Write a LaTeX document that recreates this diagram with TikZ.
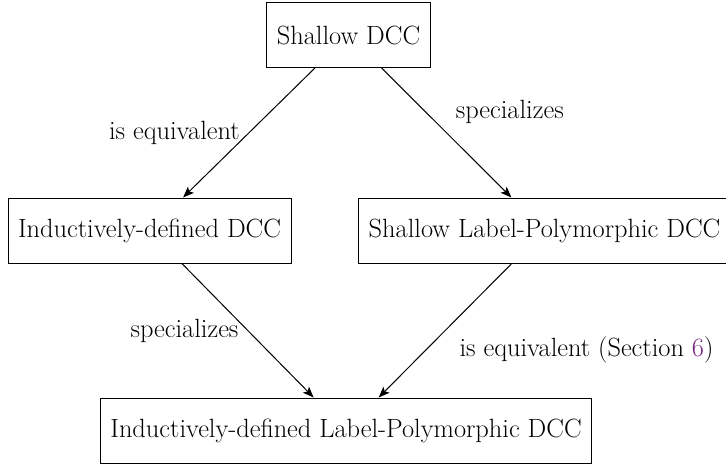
\documentclass[tikz,border=0pt]{standalone}
\usetikzlibrary{arrows.meta}
\definecolor{linkpurple}{RGB}{120,40,130}
\begin{document}
\begin{tikzpicture}[x=1pt,y=-1pt,
  every node/.style={font=\fontsize{26.4}{31}\selectfont, inner sep=8.8pt},
  box/.style={draw, line width=1pt, inner xsep=10pt, minimum height=65pt, anchor=center},
  conn/.style={-{Stealth[length=11pt,width=8.5pt,inset=2.5pt]}, line width=1pt}]
\useasboundingbox (0,0) rectangle (726,467);
\node[box] (top) at (348.5,35) {Shallow DCC};
\node[box] (left) at (149.5,230.5) {Inductively-defined DCC};
\node[box] (right) at (544.5,230.5) {Shallow Label-Polymorphic DCC};
\node[box] (bottom) at (346,430.5) {Inductively-defined Label-Polymorphic DCC};
\draw[conn] (top) -- node[left] (l1) {is equivalent} (left);
\draw[conn] (top) -- node[above right] (l2) {specializes} (right);
\draw[conn] (left) -- node[left] (l3) {specializes} (bottom);
\draw[conn] (right) -- node[below right, xshift=5pt, yshift=3pt] (l4) {is equivalent (Section \textcolor{linkpurple}{6})} (bottom);
\end{tikzpicture}
\end{document}
